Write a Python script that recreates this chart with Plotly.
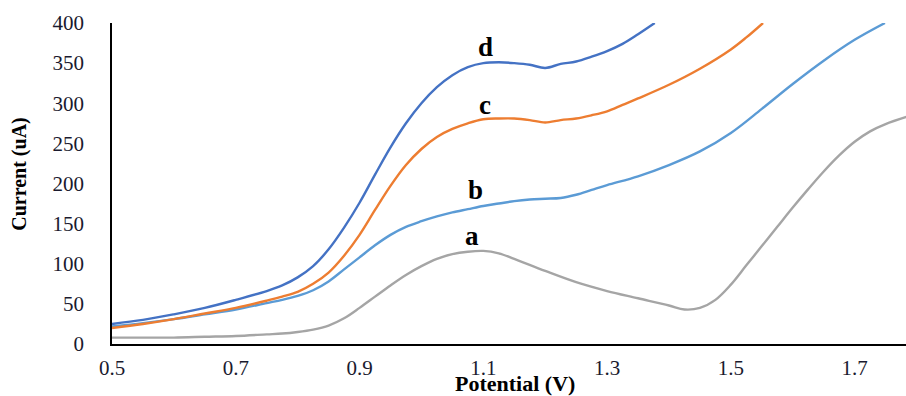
import plotly.graph_objects as go

# Voltammograms: potential (V) vs current (uA)
a_x = [0.5, 0.55, 0.6, 0.65, 0.7, 0.75, 0.775, 0.8, 0.825, 0.85, 0.875, 0.9, 0.925, 0.95, 0.975,
       1.0, 1.025, 1.05, 1.075, 1.1, 1.125, 1.15, 1.2, 1.25, 1.3, 1.35, 1.4, 1.425, 1.45, 1.475,
       1.5, 1.525, 1.55, 1.575, 1.6, 1.625, 1.65, 1.675, 1.7, 1.725, 1.75, 1.784]
a_y = [8, 8, 8, 9, 10, 12, 13, 15, 18, 23, 32, 45, 59, 73, 86,
       97, 106, 112, 115, 116, 113, 106, 91, 77, 66, 57, 48, 43, 45, 55,
       74, 98, 122, 146, 170, 193, 215, 235, 252, 265, 274, 283]

b_x = [0.5, 0.55, 0.6, 0.65, 0.7, 0.75, 0.775, 0.8, 0.825, 0.85, 0.875, 0.9, 0.925, 0.95, 0.975,
       1.0, 1.025, 1.05, 1.075, 1.1, 1.125, 1.15, 1.175, 1.2, 1.225, 1.25, 1.275, 1.3, 1.35, 1.4,
       1.45, 1.5, 1.55, 1.6, 1.65, 1.7, 1.749]
b_y = [22, 26, 31, 37, 43, 51, 55, 60, 67, 78, 93, 108, 123, 136, 146,
       153, 159, 164, 168, 172, 175, 178, 180, 181, 182, 186, 192, 198, 209, 223,
       240, 263, 293, 324, 353, 379, 400]

c_x = [0.5, 0.55, 0.6, 0.65, 0.7, 0.75, 0.775, 0.8, 0.825, 0.85, 0.875, 0.9, 0.925, 0.95, 0.975,
       1.0, 1.025, 1.05, 1.075, 1.1, 1.125, 1.15, 1.175, 1.2, 1.225, 1.25, 1.275, 1.3, 1.325, 1.35,
       1.4, 1.45, 1.5, 1.525, 1.552]
c_y = [20, 25, 31, 38, 45, 54, 59, 65, 75, 89, 110, 136, 167, 197, 223,
       243, 258, 268, 275, 280, 281, 281, 279, 276, 279, 281, 285, 290, 298, 306,
       323, 343, 367, 382, 400]

d_x = [0.5, 0.55, 0.6, 0.65, 0.7, 0.75, 0.775, 0.8, 0.825, 0.85, 0.875, 0.9, 0.925, 0.95, 0.975,
       1.0, 1.025, 1.05, 1.075, 1.1, 1.125, 1.15, 1.175, 1.2, 1.225, 1.25, 1.275, 1.3, 1.325, 1.35,
       1.377]
d_y = [25, 30, 37, 45, 55, 66, 73, 83, 97, 118, 145, 176, 211, 245, 275,
       300, 320, 335, 345, 350, 351, 350, 348, 344, 349, 352, 358, 365, 374, 386,
       400]

curve_names = ["a", "b", "c", "d"]
curve_colors = ["#A5A5A5", "#5B9BD5", "#ED7D31", "#4472C4"]
label_x = [1.082, 1.087, 1.103, 1.103]
label_y = [135, 192, 298, 370]

x_ticks = [0.5, 0.7, 0.9, 1.1, 1.3, 1.5, 1.7]
y_ticks = [0, 50, 100, 150, 200, 250, 300, 350, 400]

serif = "Liberation Serif, Times New Roman, serif"

fig = go.Figure()
for name, xs, ys, col in zip(curve_names, [a_x, b_x, c_x, d_x], [a_y, b_y, c_y, d_y], curve_colors):
    fig.add_trace(go.Scatter(x=xs, y=ys, mode="lines", name=name,
                             line=dict(color=col, width=2.4, shape="spline", smoothing=1.0)))

for name, lx, ly in zip(curve_names, label_x, label_y):
    fig.add_annotation(x=lx, y=ly, text=f"<b>{name}</b>", showarrow=False,
                       font=dict(family=serif, size=27, color="#000000"))

fig.add_annotation(xref="paper", yref="paper", x=0.5076, y=-0.1215, yanchor="middle",
                   text="<b>Potential (V)</b>", showarrow=False,
                   font=dict(family=serif, size=22, color="#000000"))
fig.add_annotation(xref="paper", yref="paper", x=-0.116, y=0.53, xanchor="center",
                   text="<b>Current (uA)</b>", textangle=-90, showarrow=False,
                   font=dict(family=serif, size=20, color="#000000"))

fig.update_layout(
    width=906, height=396,
    margin=dict(l=112, r=0, t=23, b=52),
    paper_bgcolor="white", plot_bgcolor="white",
    showlegend=False,
)
fig.update_xaxes(range=[0.5, 1.783], tickvals=x_ticks, ticktext=[f"{v:.1f}" for v in x_ticks],
                 showgrid=False, zeroline=False, showline=True, linecolor="#000000", linewidth=1.5,
                 ticks="", ticklabelstandoff=4,
                 tickfont=dict(family=serif, size=21, color="#1a1a2e"))
fig.update_yaxes(range=[0, 400], tickvals=y_ticks, showgrid=False, zeroline=False,
                 showline=True, linecolor="#000000", linewidth=1.5, ticks="",
                 ticklabelstandoff=22,
                 tickfont=dict(family=serif, size=21, color="#1a1a2e"))

fig.write_html("out.html")
